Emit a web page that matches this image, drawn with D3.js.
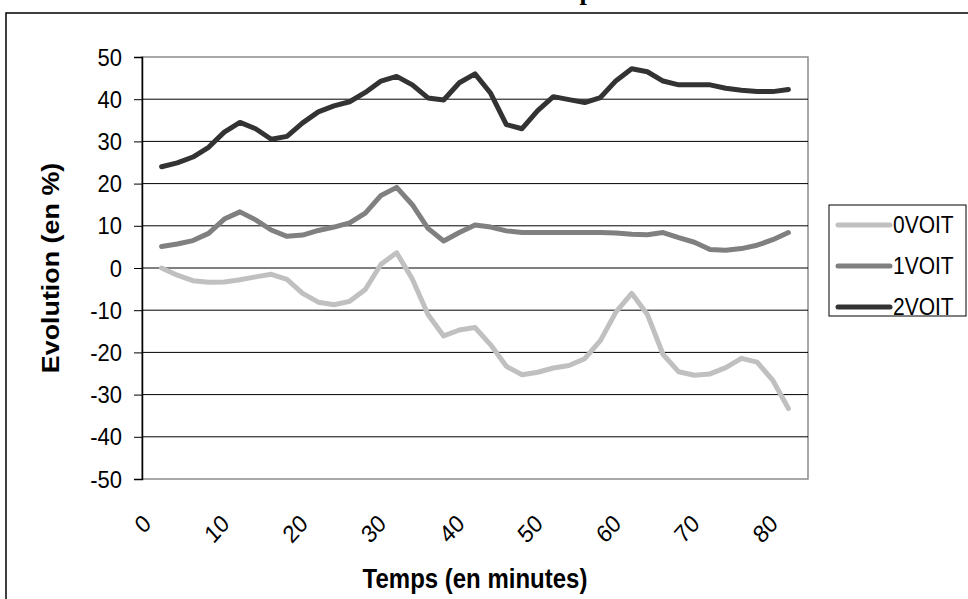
<!DOCTYPE html>
<html>
<head>
<meta charset="utf-8">
<script src="https://cdn.jsdelivr.net/npm/d3@7"></script>
<style>
  body { margin: 0; background: #fff; }
  svg { display: block; }
  text { font-family: "Liberation Sans", Arial, sans-serif; fill: #000; }
</style>
</head>
<body>
<svg id="chart" width="968" height="599"></svg>
<script>
// minutes (x categories)
const times = [2, 4, 6, 8, 10, 12, 14, 16, 18, 20, 22, 24, 26, 28, 30, 32, 34, 36, 38, 40,
               42, 44, 46, 48, 50, 52, 54, 56, 58, 60, 62, 64, 66, 68, 70, 72, 74, 76, 78, 80, 82];

const voit0 = [0.0, -1.7, -3.0, -3.4, -3.3, -2.8, -2.1, -1.5, -2.7, -6.0, -8.1, -8.7, -7.9, -5.1, 0.9, 3.6,
               -2.6, -11.0, -16.1, -14.7, -14.1, -18.2, -23.3, -25.3, -24.7, -23.7, -23.1, -21.5, -17.2,
               -10.4, -6.0, -11.0, -20.5, -24.6, -25.4, -25.1, -23.6, -21.4, -22.3, -26.6, -33.3];
const voit1 = [5.1, 5.7, 6.5, 8.2, 11.6, 13.3, 11.4, 9.0, 7.5, 7.8, 8.9, 9.7, 10.7, 13.0, 17.2, 19.1,
               15.0, 9.4, 6.4, 8.4, 10.2, 9.7, 8.8, 8.4, 8.4, 8.4, 8.4, 8.4, 8.4, 8.3, 8.0, 7.9, 8.4,
               7.2, 6.1, 4.4, 4.2, 4.6, 5.4, 6.7, 8.4];
const voit2 = [24.0, 24.9, 26.3, 28.6, 32.2, 34.5, 33.0, 30.5, 31.2, 34.4, 37.0, 38.4, 39.4, 41.6, 44.3,
               45.4, 43.4, 40.3, 39.8, 43.9, 46.0, 41.4, 34.0, 33.0, 37.3, 40.6, 39.9, 39.2, 40.4, 44.4,
               47.2, 46.5, 44.3, 43.4, 43.4, 43.4, 42.6, 42.1, 41.8, 41.8, 42.3];

const seriesNames = ["0VOIT", "1VOIT", "2VOIT"];
const seriesColors = ["#c0c0c0", "#808080", "#333333"];
const xTicks = [0, 10, 20, 30, 40, 50, 60, 70, 80];
const yTicks = [-50, -40, -30, -20, -10, 0, 10, 20, 30, 40, 50];

const series = [voit0, voit1, voit2].map((vals, i) => ({
    name: seriesNames[i],
    color: seriesColors[i],
    values: vals.map((v, j) => ({ t: times[j], v: v }))
}));

const svg = d3.select("#chart");
const stretch = 1.12;   // text in the picture is a bit tall

const plot = { left: 142, right: 808, top: 57, bottom: 479 };

const xScale = d3.scaleLinear().domain([-0.5, 84.5]).range([plot.left, plot.right]);
const yScale = d3.scaleLinear().domain([-50, 50]).range([plot.bottom, plot.top]);

// cropped chart title (only the descender shows)
svg.append("text")
    .attr("transform", "translate(604,-1) scale(1," + stretch + ")")
    .attr("text-anchor", "end")
    .style("font-family", "'Liberation Serif', 'Times New Roman', serif")
    .style("font-weight", "bold")
    .style("font-size", "26px")
    .text("Evolution du temps");

// outer chart frame (cut off by the window)
svg.append("rect")
    .attr("x", 6).attr("y", 13)
    .attr("width", 1000).attr("height", 700)
    .attr("fill", "none")
    .attr("stroke", "#000")
    .attr("stroke-width", 1.5);

// plot area
svg.append("rect")
    .attr("x", plot.left).attr("y", plot.top)
    .attr("width", plot.right - plot.left)
    .attr("height", plot.bottom - plot.top)
    .attr("fill", "#fff")
    .attr("stroke", "#8c8c8c")
    .attr("stroke-width", 1.5);

// gridlines
svg.append("g")
    .selectAll("line")
    .data(yTicks.filter(d => d > -50 && d < 50))
    .enter()
    .append("line")
    .attr("x1", plot.left).attr("x2", plot.right)
    .attr("y1", d => yScale(d)).attr("y2", d => yScale(d))
    .attr("stroke", "#000")
    .attr("stroke-width", 1);

// y axis
const yAxis = d3.axisLeft(yScale).tickValues(yTicks).tickSize(8).tickFormat("");
svg.append("g")
    .attr("transform", "translate(" + plot.left + ",0)")
    .call(yAxis)
    .call(g => g.select(".domain").attr("stroke", "#000").attr("stroke-width", 1.5))
    .call(g => g.selectAll(".tick line").attr("stroke", "#000"));

svg.append("g")
    .selectAll("text")
    .data(yTicks)
    .enter()
    .append("text")
    .attr("transform", d => "translate(122," + yScale(d) + ") scale(1," + stretch + ")")
    .attr("text-anchor", "end")
    .attr("dy", "0.35em")
    .style("font-size", "22px")
    .text(d => d);

// x tick labels, rotated
svg.append("g")
    .selectAll("text")
    .data(xTicks)
    .enter()
    .append("text")
    .attr("transform", d => "translate(" + (xScale(d) + 1) + ",519) scale(1," + stretch + ") rotate(-45)")
    .attr("text-anchor", "end")
    .attr("dy", "0.35em")
    .style("font-size", "22px")
    .text(d => d);

// axis titles
svg.append("text")
    .attr("transform", "translate(475,579) scale(1," + stretch + ")")
    .attr("text-anchor", "middle")
    .attr("dy", "0.35em")
    .style("font-weight", "bold")
    .style("font-size", "24px")
    .text("Temps (en minutes)");

svg.append("text")
    .attr("transform", "translate(51,268) scale(1," + stretch + ") rotate(-90)")
    .attr("text-anchor", "middle")
    .attr("dy", "0.35em")
    .style("font-weight", "bold")
    .style("font-size", "24px")
    .text("Evolution (en %)");

// lines
const line = d3.line()
    .x(d => xScale(d.t))
    .y(d => yScale(d.v));

svg.append("g")
    .selectAll("path")
    .data(series)
    .enter()
    .append("path")
    .attr("d", d => line(d.values))
    .attr("fill", "none")
    .attr("stroke", d => d.color)
    .attr("stroke-width", 5)
    .attr("stroke-linejoin", "round")
    .attr("stroke-linecap", "round");

// legend
const legend = svg.append("g");
legend.append("rect")
    .attr("x", 829).attr("y", 205)
    .attr("width", 137).attr("height", 111)
    .attr("fill", "#fff")
    .attr("stroke", "#000")
    .attr("stroke-width", 1);

const entry = legend.selectAll(".entry")
    .data(series)
    .enter()
    .append("g")
    .attr("class", "entry");

entry.append("line")
    .attr("x1", 838).attr("x2", 890)
    .attr("y1", (d, i) => 225 + i * 41)
    .attr("y2", (d, i) => 225 + i * 41)
    .attr("stroke", d => d.color)
    .attr("stroke-width", 5)
    .attr("stroke-linecap", "round");

entry.append("text")
    .attr("transform", (d, i) => "translate(893," + (225 + i * 41) + ") scale(1," + stretch + ")")
    .attr("dy", "0.35em")
    .style("font-size", "21px")
    .text(d => d.name);
</script>
</body>
</html>
